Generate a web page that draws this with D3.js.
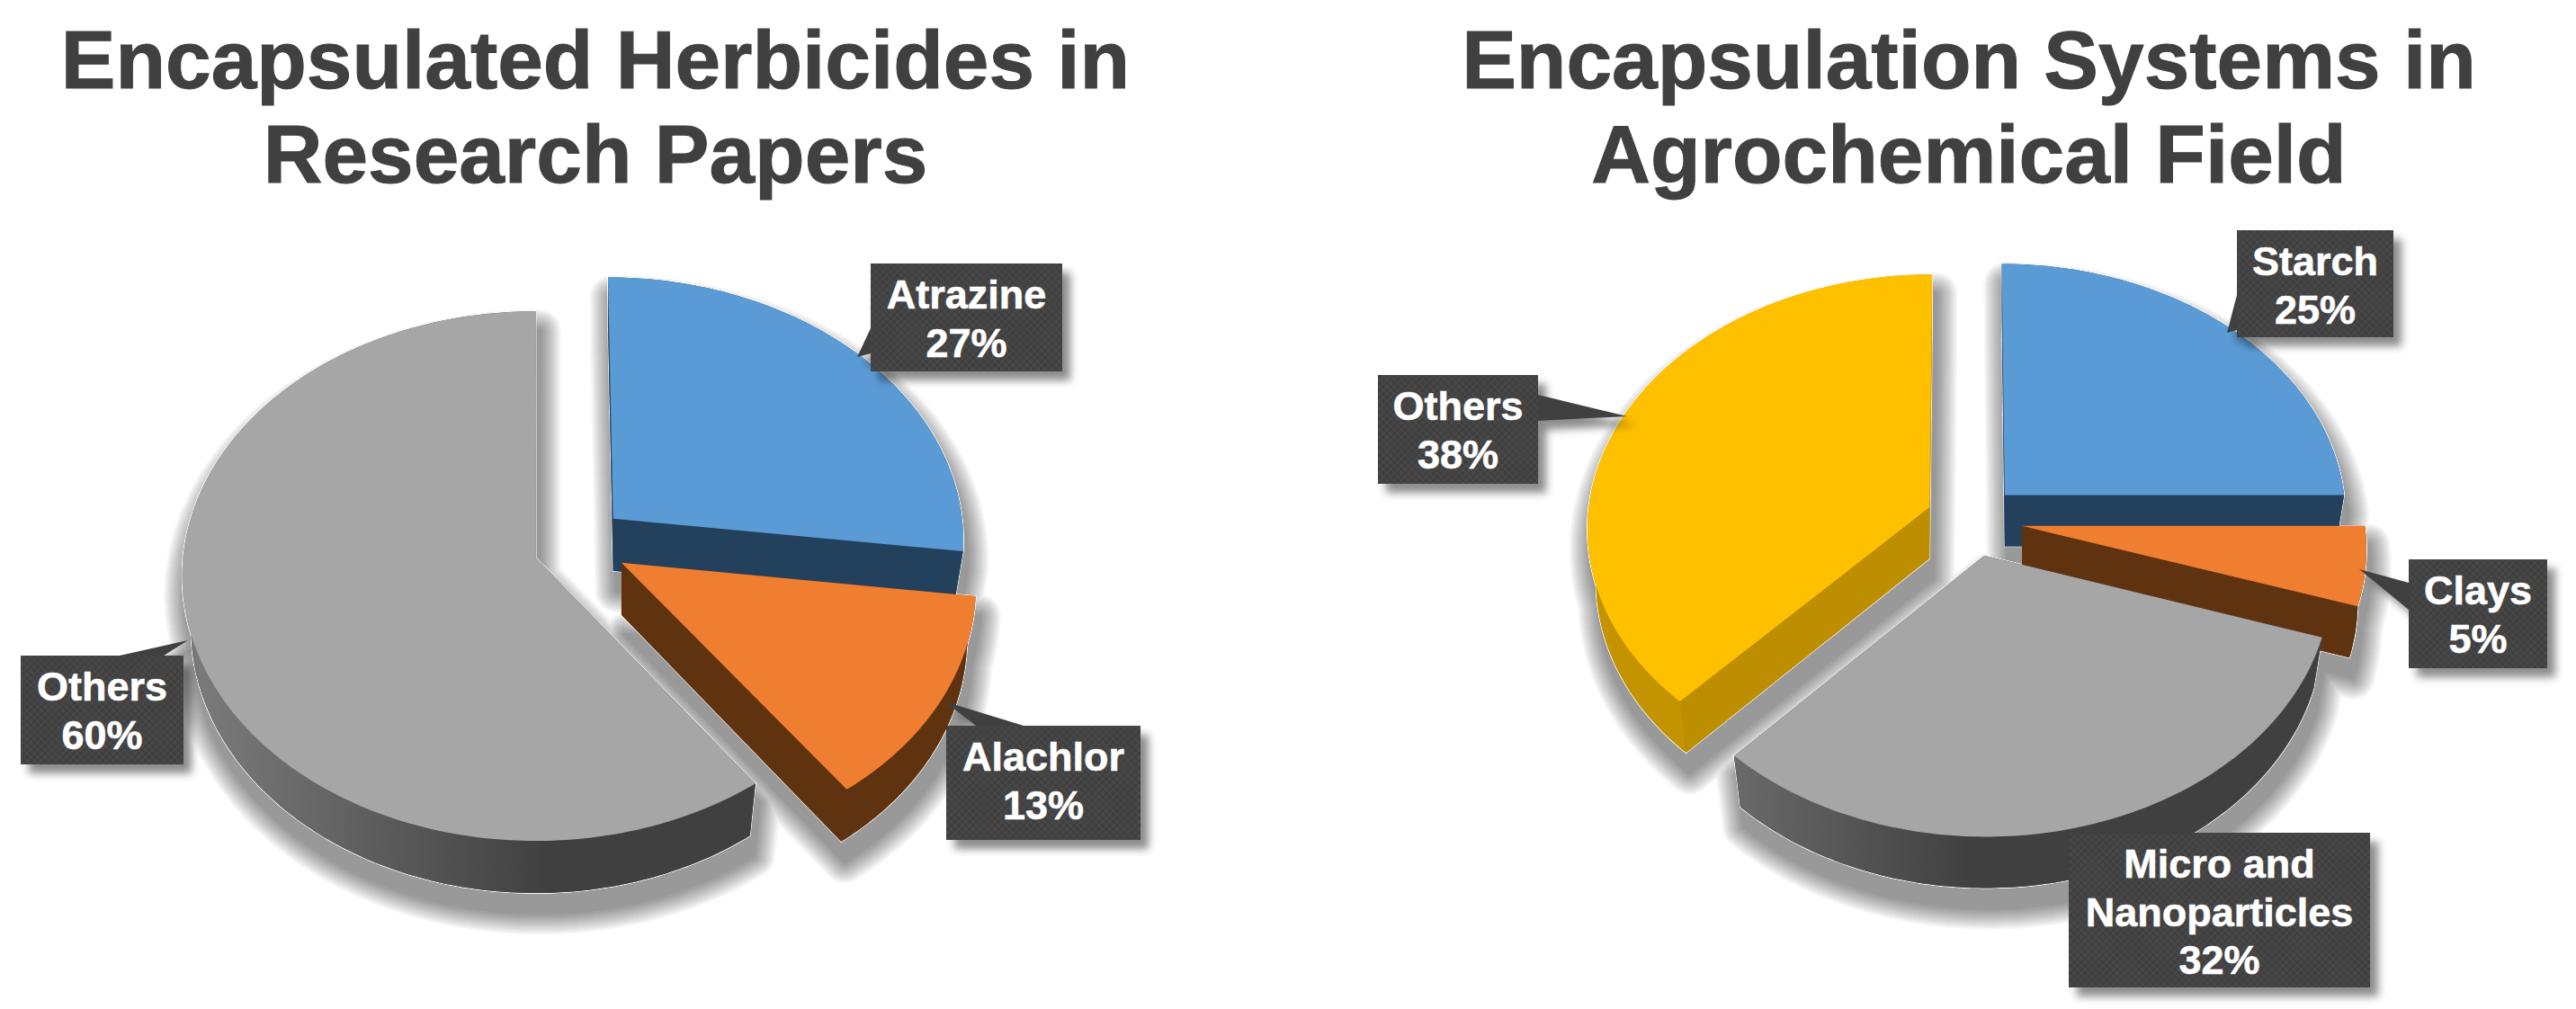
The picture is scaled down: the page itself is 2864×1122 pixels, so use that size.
<!DOCTYPE html>
<html>
<head>
<meta charset="utf-8">
<script src="https://cdn.jsdelivr.net/npm/d3@7/dist/d3.min.js"></script>
<style>html,body{margin:0;background:#fff}svg{display:block}</style>
</head>
<body>
<svg id="c" width="2864" height="1122"></svg>
<script>
// ---- data ----
const herbicideNames = ["Atrazine", "Alachlor", "Others"];
const herbicideValues = [27, 13, 60];
const systemNames = ["Starch", "Clays", "Micro and Nanoparticles", "Others"];
const systemValues = [25, 5, 32, 38];
const titleLeft = ["Encapsulated Herbicides in", "Research Papers"];
const titleRight = ["Encapsulation Systems in", "Agrochemical Field"];

// ---- styling / layout ----
const COL = {
  blue:  {top:"#5b9bd5", side:"#23405c", arc:"#23405c"},
  orange:{top:"#f07e30", side:"#5f3210", arc:"#5f3210"},
  grey:  {top:"#a6a6a6", side:"#404040", arc:"url(#G)"},
  yellow:{top:"#ffc000", side:"#bd8e00", arc:"#c49400"}
};
const pies = [
  {id:"L", names:herbicideNames, values:herbicideValues, x0:594, y0:620, rx:392, a:293, k:-0.07, depth:58,
   gx:[210,610], gc:"#7c7c7c",
   styles:[COL.blue,COL.orange,COL.grey],
   offset:[[0.226,-0.149],[0.247,0.02],[0.004,0]],
   order:[2,0,1],
   labels:[
    {box:[968,293,1181,413], lines:["Atrazine","27%"], ptr:[[968,365],[953,397],[968,393]]},
    {box:[1052,807,1268,934], lines:["Alachlor","13%"], ptr:[[1085,807],[1050,780],[1138,807]]},
    {box:[23,729,204,850], lines:["Others","60%"], ptr:[[133,729],[209,712],[182,729]]}
   ]},
  {id:"R", names:systemNames, values:systemValues, x0:2185, y0:575, rx:380, a:281, k:-0.079, depth:57,
   gx:[1900,2190], gc:"#6e6e6e",
   styles:[COL.blue,COL.orange,COL.grey,COL.yellow],
   offset:[[0.116,-0.088],[0.166,0.035],[0.055,0.15],[-0.105,-0.039]],
   order:[3,0,1,2],
   labels:[
    {box:[2487,256,2661,375], lines:["Starch","25%"], ptr:[[2487,328],[2476,370],[2487,367]]},
    {box:[2678,622,2832,743], lines:["Clays","5%"], ptr:[[2678,648],[2623,633],[2678,678]]},
    {box:[2300,926,2635,1098], lines:["Micro and","Nanoparticles","32%"], ptr:null},
    {box:[1532,417,1710,538], lines:["Others","38%"], ptr:[[1710,439],[1809,463],[1710,468]]}
   ]}
];
const FONT = "'Liberation Sans', Arial, sans-serif";
const SX = 0.975;
const SHADOW_WIDTHS = [4,8,12,16,20,24,28,32,36,40,44,48];

const svg = d3.select("#c");
const defs = svg.append("defs");

const bs = defs.append("filter").attr("id","boxShadow").attr("x","-20%").attr("y","-20%").attr("width","150%").attr("height","150%");
bs.append("feDropShadow").attr("dx",9).attr("dy",10).attr("stdDeviation",5).attr("flood-color","#000").attr("flood-opacity",0.45);

const pat = defs.append("pattern").attr("id","dither").attr("width",8).attr("height",8).attr("patternUnits","userSpaceOnUse");
pat.append("rect").attr("width",8).attr("height",8).attr("fill","#3f3f3f");
pat.append("rect").attr("width",4).attr("height",4).attr("fill","#464646");
pat.append("rect").attr("x",4).attr("y",4).attr("width",4).attr("height",4).attr("fill","#464646");

const lineGen = d3.line().x(d=>d[0]).y(d=>d[1]);
const pieGen = d3.pie().sort(null).value(d=>d).startAngle(0).endAngle(2*Math.PI);

function drawPie(p){
  const g = defs.append("linearGradient").attr("id","G"+p.id).attr("gradientUnits","userSpaceOnUse")
     .attr("x1",p.gx[0]).attr("x2",p.gx[1]).attr("y1",0).attr("y2",0);
  g.append("stop").attr("offset",0).attr("stop-color",p.gc);
  g.append("stop").attr("offset",1).attr("stop-color","#404040");

  const proj = (u,v)=>{ const d = 1+p.k*v; return [p.x0+p.rx*u/d, p.y0+p.a*v/d]; };
  const arcs = pieGen(p.values);

  const shapes = arcs.map((a,i)=>{
    const [ou,ov] = p.offset[i];
    const n = Math.ceil((a.endAngle-a.startAngle)*60);
    const rim = d3.range(n+1).map(j=>{
      const t = a.startAngle+(a.endAngle-a.startAngle)*j/n;
      return proj(ou+Math.sin(t), ov-Math.cos(t));
    });
    const apex = proj(ou,ov);
    const low = q=>[apex[0]+(q[0]-apex[0])*SX, q[1]+p.depth];
    return {i, rim, apex, low, st:p.styles[i]};
  });

  // soft shadow built from flattened round-stroked layers, with a thin light rim above it
  const outlines = shapes.flatMap(s=>[
    lineGen([s.apex,...s.rim])+"Z",
    lineGen([s.low(s.apex),...s.rim.map(s.low)])+"Z",
    lineGen([...s.rim,...s.rim.map(s.low).reverse()])+"Z"
  ]);
  const sh = svg.append("g").attr("transform","translate(4,22)");
  SHADOW_WIDTHS.slice().reverse().forEach(w=>{
    const layer = sh.append("g").attr("opacity",0.036);
    outlines.forEach(d=>layer.append("path").attr("d",d).attr("fill","#000").attr("stroke","#000")
      .attr("stroke-width",w).attr("stroke-linejoin","round"));
  });
  const rimG = svg.append("g");
  outlines.forEach(d=>rimG.append("path").attr("d",d).attr("fill","#fff").attr("stroke","#fff").attr("stroke-width",1.5));

  p.order.forEach(idx=>{
    const s = shapes[idx], gr = svg.append("g"), low = s.low;
    const arcFill = s.st===COL.grey ? "url(#G"+p.id+")" : s.st.arc;
    const first = s.rim[0], last = s.rim[s.rim.length-1];
    gr.append("path").attr("d",lineGen([low(s.apex),...s.rim.map(low)])+"Z").attr("fill",s.st.side);
    gr.append("path").attr("d",lineGen([s.apex,first,low(first),low(s.apex)])+"Z").attr("fill",s.st.side);
    gr.append("path").attr("d",lineGen([s.apex,last,low(last),low(s.apex)])+"Z").attr("fill",s.st.side);
    gr.append("path").attr("d",lineGen([...s.rim,...s.rim.map(low).reverse()])+"Z").attr("fill",arcFill);
    gr.append("path").attr("d",lineGen([s.apex,...s.rim])+"Z").attr("fill",s.st.top);
  });
}
pies.forEach(drawPie);

function drawLabels(p){
  p.labels.forEach(l=>{
    const [x1,y1,x2,y2] = l.box;
    const g = svg.append("g");
    const sg = g.append("g").attr("filter","url(#boxShadow)");
    sg.append("rect").attr("x",x1).attr("y",y1).attr("width",x2-x1).attr("height",y2-y1).attr("fill","url(#dither)");
    if(l.ptr) sg.append("path").attr("d",lineGen(l.ptr)+"Z").attr("fill","#404040");
    const cx=(x1+x2)/2;
    l.lines.forEach((t,i)=>{
      g.append("text").attr("x",cx).attr("y",y1+50+i*53.5).attr("text-anchor","middle")
       .attr("font-family",FONT).attr("font-weight",700).attr("font-size",45).attr("fill","#fff")
       .attr("stroke","#fff").attr("stroke-width",0.6).text(t);
    });
  });
}
pies.forEach(drawLabels);

[[titleLeft,662],[titleRight,2189]].forEach(([lines,cx])=>{
  lines.forEach((t,i)=>{
    svg.append("text").attr("x",cx).attr("y",98+i*105).attr("text-anchor","middle")
      .attr("font-family",FONT).attr("font-weight",700).attr("font-size",91).attr("fill","#404040")
      .attr("stroke","#404040").attr("stroke-width",1).text(t);
  });
});
</script>
</body>
</html>
